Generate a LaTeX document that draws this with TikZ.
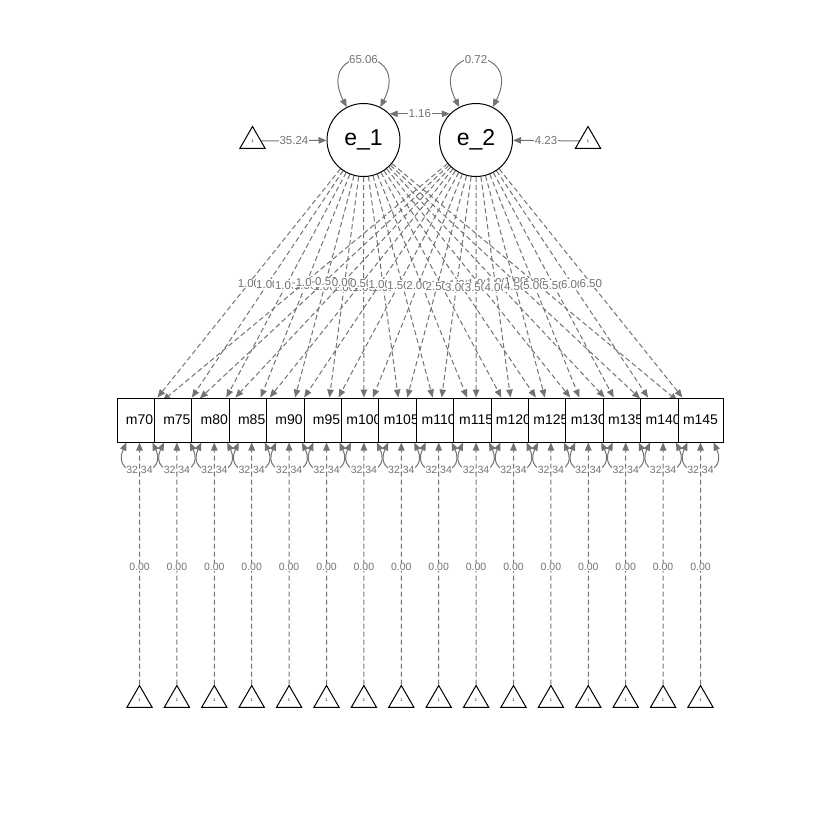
\documentclass[tikz,border=0pt]{standalone}
\usepackage{fontspec}
\setmainfont{Liberation Sans}
\usetikzlibrary{arrows.meta,shapes.geometric,calc}
\pgfdeclarelayer{background}
\pgfsetlayers{background,main}
\definecolor{edgegray}{RGB}{115,115,115}
\tikzset{
  >={Triangle[length=8pt,width=6.5pt]},
  lat/.style={circle, draw=black, line width=1pt, fill=white, minimum size=73pt, inner sep=0pt, font=\fontsize{23}{26}\selectfont},
  obs/.style={rectangle, draw=black, line width=1pt, fill=white, minimum width=45pt, minimum height=44pt, inner sep=0pt, font=\fontsize{14}{16}\selectfont},
  tri/.style={regular polygon, regular polygon sides=3, draw=black, line width=1pt, fill=white, minimum size=29pt, inner sep=0pt, font=\fontsize{4}{5}\selectfont},
  edge/.style={draw=edgegray, line width=1pt, ->},
  dedge/.style={edge, dash pattern=on 5pt off 3pt},
  lab/.style={fill=white, inner sep=0.6pt, text=edgegray, font=\fontsize{11.5}{12}\selectfont},
  slab/.style={lab, font=\fontsize{10.5}{12}\selectfont},
}
\begin{document}
\begin{tikzpicture}[x=1pt,y=-1pt]
\useasboundingbox (0,0) rectangle (840,840);
% latent variables and intercept triangles
\node[lat] (e1) at (363.5,140) {e\_1};
\node[lat] (e2) at (476,140) {e\_2};
\node[tri] (t1) at (252.5,141) {1};
\node[tri] (t2) at (588,141) {1};
% observed variables and their triangles
\foreach \n [count=\i from 0] in {70,75,80,85,90,95,100,105,110,115,120,125,130,135,140,145} {
  \node[obs] (m\i) at ({139.5+37.4*\i},420) {m\n};
  \node[tri] (b\i) at ({139.5+37.4*\i},700) {1};
}
\begin{pgfonlayer}{background}
% top part
\draw[edge] (t1) -- (e1) node[lab,midway]{35.24};
\draw[edge] (t2) -- (e2) node[lab,midway]{4.23};
\draw[edge,<->] (e1.45) -- (e2.135) node[lab,midway]{1.16};
\draw[edge,<->] (e1.117) .. controls ($(e1.center)+(-49,-96)$) and ($(e1.center)+(49,-96)$) .. (e1.63) node[lab,pos=0.5]{65.06};
\draw[edge,<->] (e2.117) .. controls ($(e2.center)+(-49,-96)$) and ($(e2.center)+(49,-96)$) .. (e2.63) node[lab,pos=0.5]{0.72};
% loadings
\foreach \i in {0,...,15} {
  \draw[dedge] (e1) -- (m\i) node[lab,midway]{1.00};
}
\foreach \s [count=\i from 0] in {-1.00,-0.50,0.00,0.50,1.00,1.50,2.00,2.50,3.00,3.50,4.00,4.50,5.00,5.50,6.00,6.50} {
  \draw[dedge] (e2) -- (m\i) node[lab,midway]{\s};
}
% residual variances
\foreach \i in {0,...,15} {
  \draw[edge,<->] ($(m\i.south)+(-13,0)$) .. controls ($(m\i.south)+(-30,37)$) and ($(m\i.south)+(30,37)$) .. ($(m\i.south)+(13,0)$) node[slab,pos=0.5]{32.34};
}
% intercepts
\foreach \i in {0,...,15} {
  \draw[dedge] (b\i) -- (m\i) node[slab,pos=0.485]{0.00};
}
\end{pgfonlayer}
\end{tikzpicture}
\end{document}
